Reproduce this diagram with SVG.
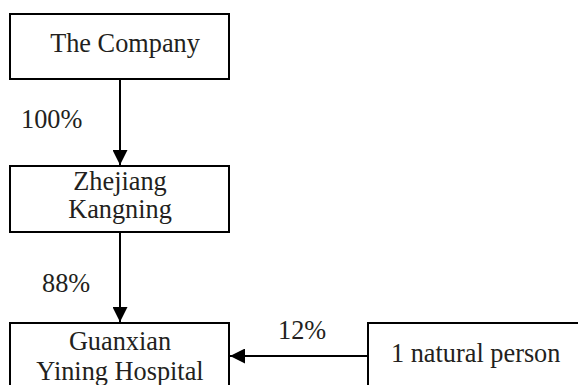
<svg xmlns="http://www.w3.org/2000/svg" width="578" height="385" viewBox="0 0 578 385">
<style>
.box{fill:#fff;stroke:#000;stroke-width:2}
.t{font-family:'Liberation Serif','DejaVu Serif','Times New Roman',Times,serif;font-size:26.3px;fill:#231f20}
.c{text-anchor:middle}
.edge{stroke:#000;stroke-width:2;fill:none}
</style>
<defs>
<marker id="ah2" markerWidth="15" markerHeight="15" refX="15" refY="7.5" orient="auto" markerUnits="userSpaceOnUse" viewBox="0 0 15 15">
<path d="M0,0 L15,7.5 L0,15 z" fill="#000"/>
</marker>
</defs>
<g id="n1"><rect class="box" x="10" y="14" width="219" height="65"/><text class="t c" x="125" y="52">The Company</text></g>
<g id="n2"><rect class="box" x="10" y="166" width="219" height="66"/><text class="t c" x="120" y="190">Zhejiang</text><text class="t c" x="120" y="218">Kangning</text></g>
<g id="n3"><rect class="box" x="10" y="323" width="219" height="80"/><text class="t c" x="120" y="350">Guanxian</text><text class="t c" x="120" y="380">Yining Hospital</text></g>
<g id="n4"><rect class="box" x="368" y="323" width="230" height="80"/><text class="t" x="391" y="362">1 natural person</text></g>
<g id="edges">
<line class="edge" x1="120" y1="79" x2="120" y2="165" marker-end="url(#ah2)"/>
<line class="edge" x1="120" y1="232" x2="120" y2="322" marker-end="url(#ah2)"/>
<line class="edge" x1="368" y1="356" x2="230" y2="356" marker-end="url(#ah2)"/>
<text class="t" x="21" y="128">100%</text>
<text class="t" x="42" y="292">88%</text>
<text class="t" x="278" y="339">12%</text>
</g>
</svg>
